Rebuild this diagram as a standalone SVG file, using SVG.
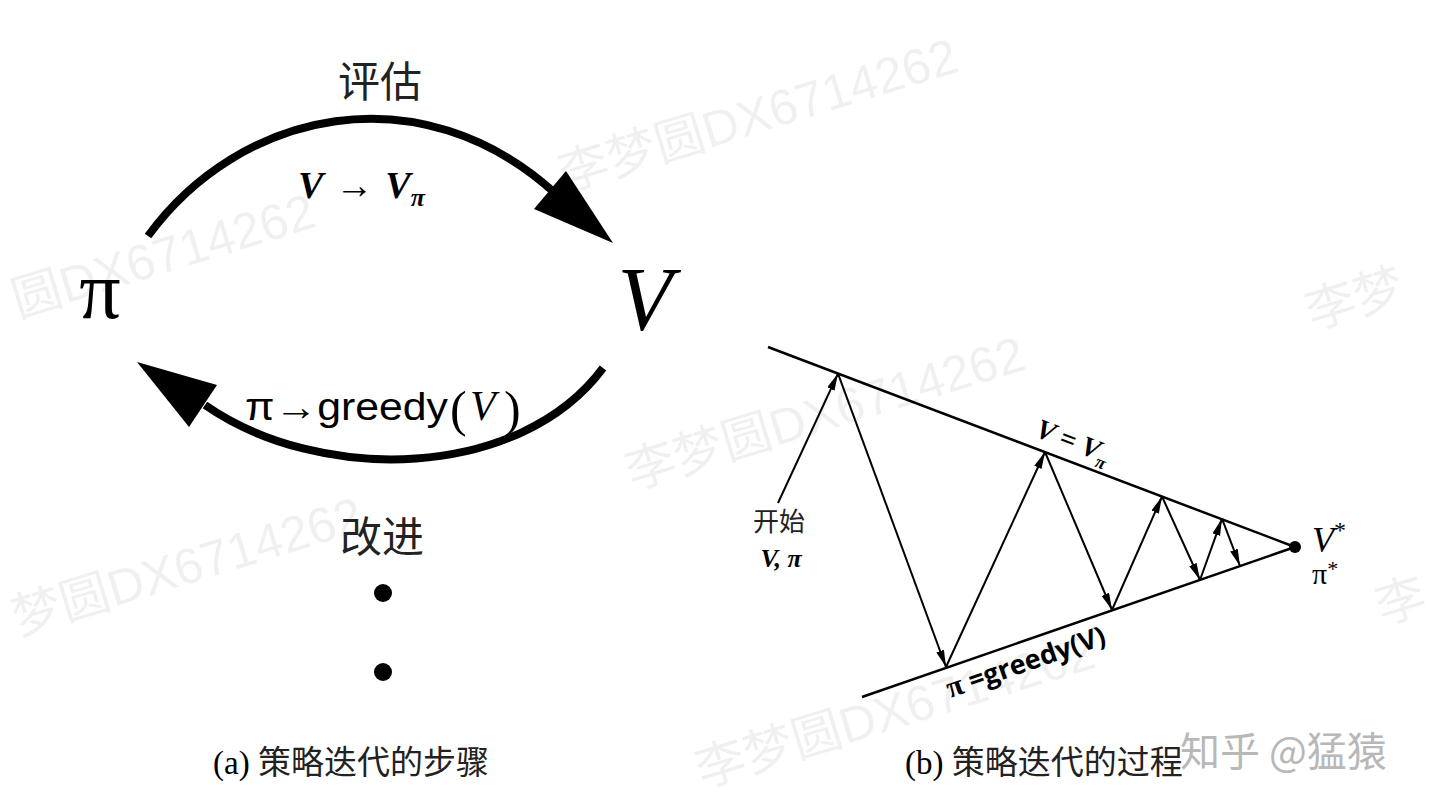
<svg xmlns="http://www.w3.org/2000/svg" width="1440" height="812" viewBox="0 0 1440 812">
<defs>
<style>
.cjk{font-family:"Noto Sans CJK SC","Noto Sans CJK JP",sans-serif;fill:#222}
.ser{font-family:"Liberation Serif","DejaVu Serif",serif;fill:#000}
.san{font-family:"Liberation Sans",Arial,sans-serif;fill:#000}
.thick{fill:none;stroke:#000;stroke-width:8;stroke-linecap:butt}
.edge{fill:none;stroke:#000;stroke-width:2.5}
.arr{fill:none;stroke:#000;stroke-width:2;marker-end:url(#ah)}
.wm{font-family:"Liberation Sans","Noto Sans CJK SC",sans-serif;font-size:50px;fill:#000;fill-opacity:0.06}
</style>
<marker id="ah" markerUnits="userSpaceOnUse" markerWidth="18" markerHeight="10" refX="17" refY="4" orient="auto">
<path d="M0,0 L17,4 L0,8 z" fill="#000"/>
</marker>
</defs>
<rect width="1440" height="812" fill="#fff"/>

<g id="watermarks">
<text class="wm" x="565" y="192" transform="rotate(-17 565 192)">李梦圆DX6714262</text>
<text class="wm" x="18" y="318" transform="rotate(-17 18 318)">圆DX6714262</text>
<text class="wm" x="632" y="490" transform="rotate(-17 632 490)">李梦圆DX6714262</text>
<text class="wm" x="18" y="636" transform="rotate(-17 18 636)">梦圆DX6714262</text>
<text class="wm" x="702" y="788" transform="rotate(-17 702 788)">李梦圆DX6714262</text>
<text class="wm" x="1312" y="330" transform="rotate(-17 1312 330)">李梦</text>
<text class="wm" x="1382" y="625" transform="rotate(-17 1382 625)">李</text>
</g>

<!-- Part (a) -->
<g id="node-pi">
<text class="ser" x="100" y="318" font-size="82" text-anchor="middle">π</text>
</g>
<g id="node-V">
<text class="ser" x="645" y="330" font-size="90" font-style="italic" text-anchor="middle">V</text>
</g>
<g id="connectors-a">
<path class="thick" d="M148,236 C240,110 420,70 556,194"/>
<polygon points="613,243 534,209 566,171" fill="#000"/>
<path class="thick" d="M603,368 C520,480 320,485 205,405"/>
<polygon points="137,362 217,385 189,427" fill="#000"/>
</g>
<g id="label-eval">
<text class="cjk" x="380" y="97" font-size="42" text-anchor="middle">评估</text>
<text class="ser" x="298" y="198" font-size="38" font-weight="bold" font-style="italic">V<tspan font-style="normal" font-weight="normal" dx="12">→</tspan><tspan dx="12">V</tspan><tspan font-size="26" dy="8">π</tspan></text>
</g>
<g id="label-improve">
<text class="san" x="245" y="420" font-size="38" textLength="203" lengthAdjust="spacingAndGlyphs">π→greedy</text>
<text class="ser" x="450" y="426" font-size="50">(</text>
<text class="ser" x="470" y="420" font-size="42" font-style="italic">V</text>
<text class="ser" x="504" y="426" font-size="50">)</text>
<text class="cjk" x="382" y="552" font-size="42" text-anchor="middle">改进</text>
</g>
<g id="dots">
<circle cx="383" cy="593" r="9" fill="#000"/>
<circle cx="383" cy="672" r="9" fill="#000"/>
</g>
<g id="caption-a">
<text x="213" y="774" font-size="33"><tspan class="ser">(a) </tspan><tspan class="cjk">策略迭代的步骤</tspan></text>
</g>

<!-- Part (b) -->
<g id="lines-b">
<line class="edge" x1="768" y1="347" x2="1295" y2="547"/>
<line class="edge" x1="862" y1="697" x2="1295" y2="547"/>
</g>
<g id="connectors-b">
<line class="arr" x1="778" y1="503" x2="838" y2="373.6"/>
<line class="arr" x1="838" y1="373.6" x2="946" y2="667"/>
<line class="arr" x1="946" y1="667" x2="1045" y2="452"/>
<line class="arr" x1="1045" y1="452" x2="1112" y2="610"/>
<line class="arr" x1="1112" y1="610" x2="1162" y2="496.5"/>
<line class="arr" x1="1162" y1="496.5" x2="1200" y2="580"/>
<line class="arr" x1="1200" y1="580" x2="1222" y2="518.6"/>
<line class="arr" x1="1222" y1="518.6" x2="1240" y2="566"/>
</g>
<g id="node-start">
<text class="cjk" x="779" y="531" font-size="26" text-anchor="middle">开始</text>
<text class="ser" x="781" y="567" font-size="26" font-weight="bold" font-style="italic" text-anchor="middle">V, π</text>
</g>
<g id="node-opt">
<circle cx="1295" cy="547" r="6" fill="#000"/>
<text class="ser" x="1312" y="552" font-size="36" font-style="italic">V<tspan font-size="24" dy="-14" font-style="normal">*</tspan></text>
<text class="ser" x="1312" y="584" font-size="30">π<tspan font-size="22" dy="-8">*</tspan></text>
</g>
<g id="label-top">
<text class="ser" x="1034" y="436" font-size="28" font-weight="bold" font-style="italic" transform="rotate(20.8 1034 436)">V = V<tspan font-size="18" dy="7">π</tspan></text>
</g>
<g id="label-bottom">
<text x="950" y="698" font-size="27" font-weight="bold" font-family="'Open Sans','Liberation Sans',sans-serif" transform="rotate(-19.1 950 698)"><tspan font-family="'Liberation Serif',serif" font-size="30">π</tspan> =greedy(V)</text>
</g>
<g id="caption-b">
<text x="905" y="774" font-size="33"><tspan class="ser">(b) </tspan><tspan class="cjk">策略迭代的过程</tspan></text>
</g>
<g id="credit">
<text x="1180" y="766" font-size="40" font-family="'Noto Sans CJK SC',sans-serif" fill="#b8b8b8">知乎 @猛猿</text>
</g>
</svg>
